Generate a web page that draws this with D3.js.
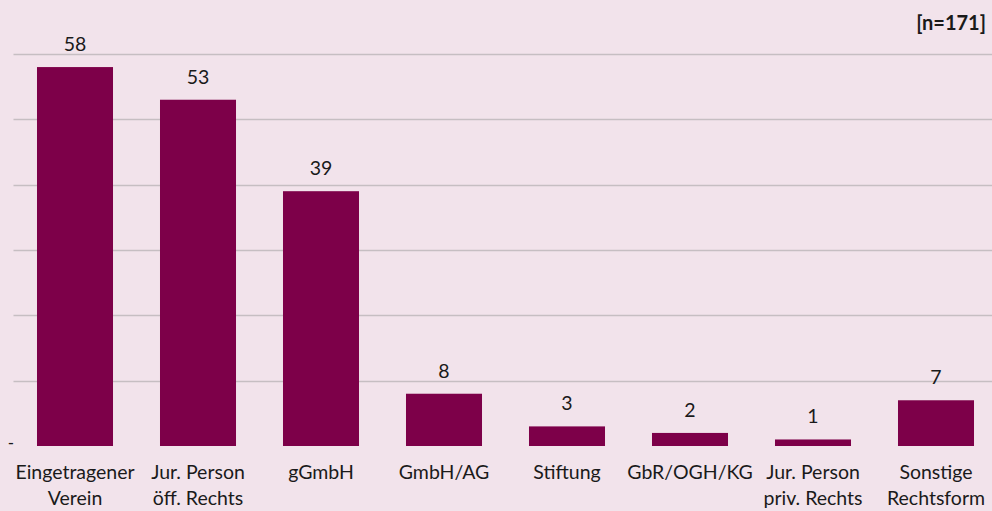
<!DOCTYPE html>
<html>
<head>
<meta charset="utf-8">
<script src="https://cdn.jsdelivr.net/npm/d3@7"></script>
<style>
  html, body { margin: 0; padding: 0; background: #f2e3eb; }
  svg { display: block; }
  text { font-family: Lato, "Open Sans", sans-serif; fill: #1a1a1a; }
</style>
</head>
<body>
<div id="chart"></div>
<script>
const categories = [
  ["Eingetragener", "Verein"],
  ["Jur. Person", "öff. Rechts"],
  ["gGmbH"],
  ["GmbH/AG"],
  ["Stiftung"],
  ["GbR/OGH/KG"],
  ["Jur. Person", "priv. Rechts"],
  ["Sonstige", "Rechtsform"]
];
const values = [58, 53, 39, 8, 3, 2, 1, 7];
const yTicks = [0, 10, 20, 30, 40, 50, 60];
const note = "[n=171]";

(function () {
  const width = 992, height = 511;
  const margin = { top: 54, left: 13.5 };
  const innerW = 984;
  const innerH = 446 - margin.top;

  const svg = d3.select("#chart").append("svg")
    .attr("width", width)
    .attr("height", height);

  svg.append("rect").attr("width", width).attr("height", height).attr("fill", "#f2e3eb");

  const g = svg.append("g").attr("transform", `translate(${margin.left},${margin.top})`);

  const keys = categories.map((c, i) => i);
  const x = d3.scaleBand().domain(keys).range([0, innerW]).paddingInner(0.382).paddingOuter(0.191);
  const y = d3.scaleLinear().domain([0, 60]).range([innerH, 0]);

  // gridlines (run to the right edge)
  g.selectAll(".grid")
    .data(yTicks.filter(t => t > 0))
    .enter().append("line")
    .attr("x1", 0).attr("x2", width - margin.left)
    .attr("y1", d => Math.round(y(d)) + 0.5).attr("y2", d => Math.round(y(d)) + 0.5)
    .attr("stroke", "#c6bec2")
    .attr("stroke-width", 1.5);

  // y axis: only the zero label, shown as a dash
  svg.append("text")
    .attr("x", 11).attr("y", margin.top + y(0) + 3)
    .attr("text-anchor", "middle")
    .style("font-size", "17px")
    .text("-");

  g.selectAll(".bar")
    .data(values)
    .enter().append("rect")
    .attr("x", (d, i) => x(i))
    .attr("y", d => y(d))
    .attr("width", x.bandwidth())
    .attr("height", d => innerH - y(d))
    .attr("fill", "#7d0049");

  g.selectAll(".val")
    .data(values)
    .enter().append("text")
    .attr("x", (d, i) => x(i) + x.bandwidth() / 2)
    .attr("y", d => y(d) - 16)
    .attr("text-anchor", "middle")
    .style("font-size", "19.5px")
    .text(d => d);

  const labels = g.selectAll(".cat")
    .data(categories)
    .enter().append("text")
    .attr("text-anchor", "middle")
    .style("font-size", "19.5px")
    .attr("transform", (d, i) => `translate(${x(i) + x.bandwidth() / 2},${innerH + 33})`);
  labels.selectAll("tspan")
    .data(d => d)
    .enter().append("tspan")
    .attr("x", 0)
    .attr("y", (d, i) => i * 25.5)
    .text(d => d);

  svg.append("text")
    .attr("x", 986).attr("y", 30)
    .attr("text-anchor", "end")
    .style("font-size", "20px")
    .style("font-weight", "bold")
    .text(note);
})();
</script>
</body>
</html>
